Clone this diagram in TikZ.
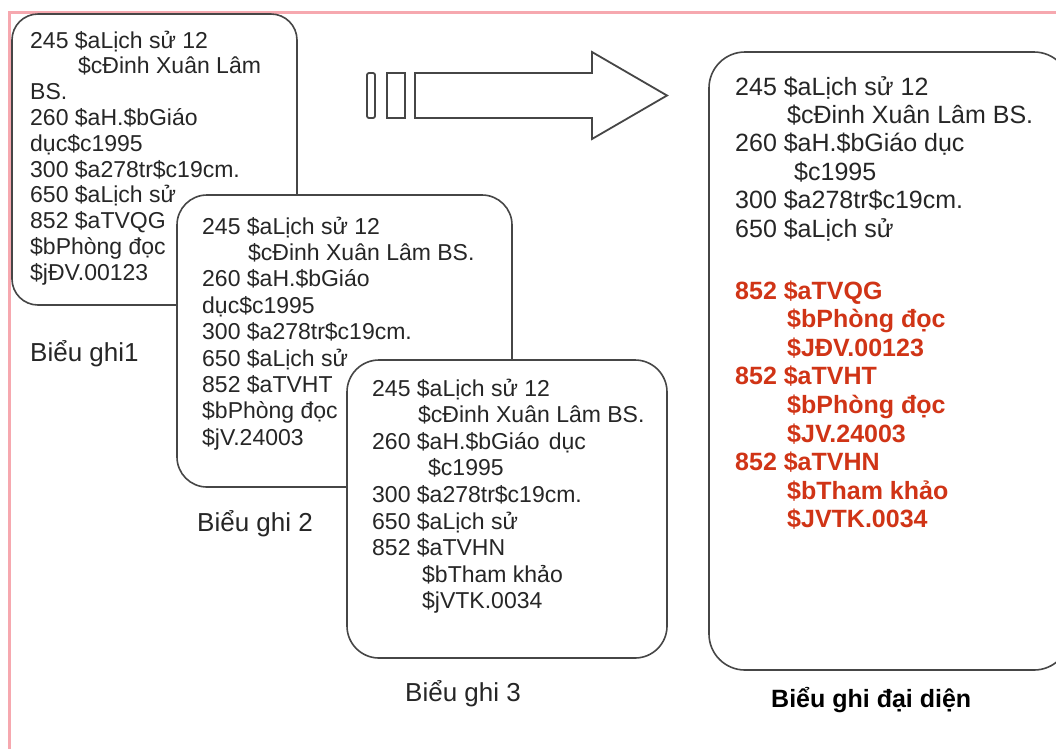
\documentclass[tikz,border=0pt]{standalone}
\usepackage{fontspec}
\setmainfont{Liberation Sans}
\definecolor{pinkline}{RGB}{246,168,175}
\definecolor{redtxt}{RGB}{208,52,22}
\definecolor{boxline}{RGB}{70,70,70}
\newcommand{\rline}[4]{\node[txt] (#1) at (#2,#3) {#4};}
\begin{document}
\begin{tikzpicture}[x=1pt,y=-1pt,
  box/.style={draw=boxline,line width=1.6pt,fill=white,rounded corners=#1,inner sep=0pt},
  txt/.style={anchor=base west,inner sep=0pt,font=\fontsize{23}{26}\selectfont,text=black!85},
  txtb/.style={txt,font=\fontsize{25}{28}\selectfont},
  txtr/.style={txt,font=\fontsize{25}{28}\selectfont\bfseries,text=redtxt},
  lbl/.style={anchor=base west,inner sep=0pt,font=\fontsize{26}{28}\selectfont,text=black!85},
  lblb/.style={lbl,font=\fontsize{25}{28}\selectfont\bfseries,text=black},
  arr/.style={draw=boxline,line width=1.8pt,fill=white}]
\useasboundingbox (0,0) rectangle (1056,748);
\clip (0,0) rectangle (1056,748);
\fill[white] (0,0) rectangle (1056,748);
% pink frame
\draw[pinkline,line width=3pt] (9,760) -- (9,12) -- (1070,12);

% ---- Box 1
\node[box=26pt,minimum width=285pt,minimum height=291pt] (box1) at (154.5,159.5) {};
\rline{a1}{30}{48}{245 \$aLịch sử 12}
\rline{a2}{78}{73.8}{\$cĐinh Xuân Lâm}
\rline{a3}{30}{99.6}{BS.}
\rline{a4}{30}{125.4}{260 \$aH.\$bGiáo}
\rline{a5}{30}{151.2}{dục\$c1995}
\rline{a6}{30}{177}{300 \$a278tr\$c19cm.}
\rline{a7}{30}{202.8}{650 \$aLịch sử}
\rline{a8}{30}{228.6}{852 \$aTVQG}
\rline{a9}{30}{254.4}{\$bPhòng đọc}
\rline{a10}{30}{280.2}{\$jĐV.00123}
\node[lbl] (l1) at (30,361) {Biểu ghi1};

% ---- Box 2
\node[box=30pt,minimum width=335pt,minimum height=292pt] (box2) at (344.5,341) {};
\rline{b1}{202}{234}{245 \$aLịch sử 12}
\rline{b2}{248}{260.4}{\$cĐinh Xuân Lâm BS.}
\rline{b3}{202}{286.8}{260 \$aH.\$bGiáo}
\rline{b4}{202}{313.2}{dục\$c1995}
\rline{b5}{202}{339.6}{300 \$a278tr\$c19cm.}
\rline{b6}{202}{366}{650 \$aLịch sử}
\rline{b7}{202}{392.4}{852 \$aTVHT}
\rline{b8}{202}{418.8}{\$bPhòng đọc}
\rline{b9}{202}{445.2}{\$jV.24003}
\node[lbl] (l2) at (197,531) {Biểu ghi 2};

% ---- Box 3
\node[box=32pt,minimum width=320pt,minimum height=298pt] (box3) at (507,509) {};
\rline{c1}{372}{396}{245 \$aLịch sử 12}
\rline{c2}{418}{422.6}{\$cĐinh Xuân Lâm BS.}
\rline{c3}{372}{449.2}{260 \$aH.\$bGiáo\hspace{0.4em}dục}
\rline{c4}{428}{475.8}{\$c1995}
\rline{c5}{372}{502.4}{300 \$a278tr\$c19cm.}
\rline{c6}{372}{529}{650 \$aLịch sử}
\rline{c7}{372}{555.6}{852 \$aTVHN}
\rline{c8}{422}{582.2}{\$bTham khảo}
\rline{c9}{422}{608.8}{\$jVTK.0034}
\node[lbl] (l3) at (405,701) {Biểu ghi 3};

% ---- Arrow
\node[arr,rounded corners=2pt,minimum width=8pt,minimum height=45pt,inner sep=0pt] (bar1) at (371,95.5) {};
\node[arr,minimum width=18pt,minimum height=45pt,inner sep=0pt] (bar2) at (396,95.5) {};
\draw[arr,line join=miter] (415,73) -- (592,73) -- (592,52) -- (667,95.5) -- (592,139) -- (592,118) -- (415,118) -- cycle;

% ---- Box 4
\node[box=36pt,minimum width=361pt,minimum height=618pt] (box4) at (889.5,361) {};
\node[txtb] (d1) at (735,95) {245 \$aLịch sử 12};
\node[txtb] (d2) at (787,123.4) {\$cĐinh Xuân Lâm BS.};
\node[txtb] (d3) at (735,151.8) {260 \$aH.\$bGiáo dục};
\node[txtb] (d4) at (794,180.2) {\$c1995};
\node[txtb] (d5) at (735,208.6) {300 \$a278tr\$c19cm.};
\node[txtb] (d6) at (735,237) {650 \$aLịch sử};
\node[txtr] (e1) at (735,299) {852 \$aTVQG};
\node[txtr] (e2) at (787,327.6) {\$bPhòng đọc};
\node[txtr] (e3) at (787,356.2) {\$JĐV.00123};
\node[txtr] (e4) at (735,384.8) {852 \$aTVHT};
\node[txtr] (e5) at (787,413.4) {\$bPhòng đọc};
\node[txtr] (e6) at (787,442) {\$JV.24003};
\node[txtr] (e7) at (735,470.6) {852 \$aTVHN};
\node[txtr] (e8) at (787,499.2) {\$bTham khảo};
\node[txtr] (e9) at (787,527.8) {\$JVTK.0034};
\node[lblb] (l4) at (771,707) {Biểu ghi đại diện};
\end{tikzpicture}
\end{document}
